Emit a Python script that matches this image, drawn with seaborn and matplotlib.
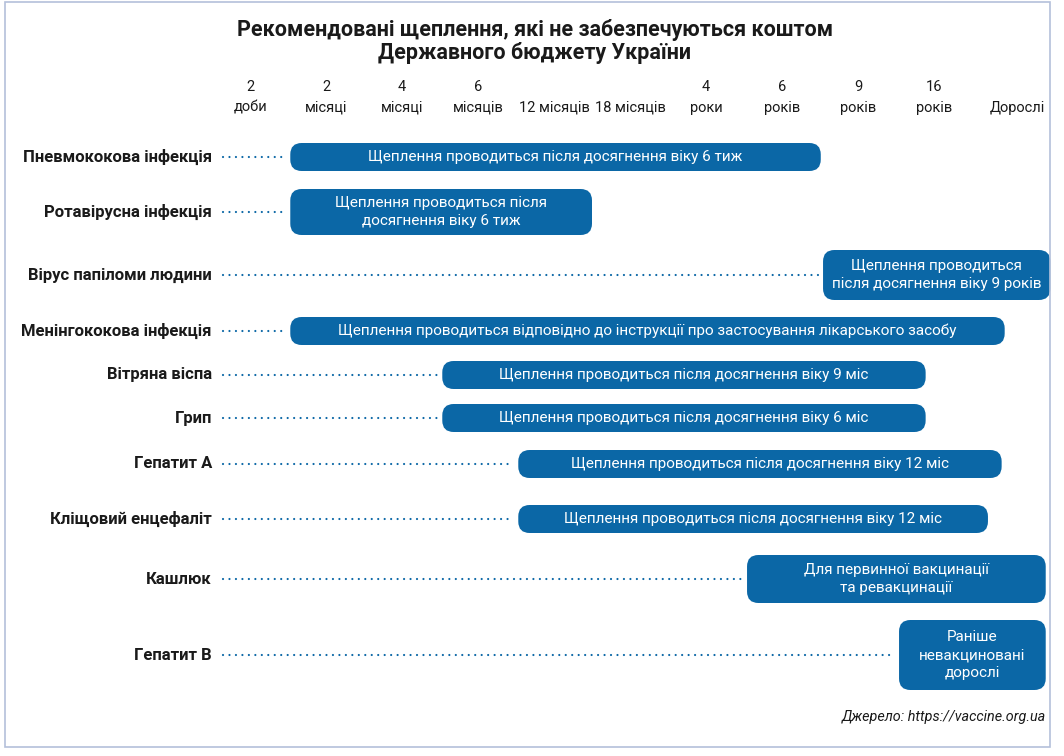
import matplotlib.pyplot as plt
import seaborn as sns
from matplotlib.patches import FancyBboxPatch, Rectangle

# --- 1. Data ---
header_top = ['2', '2', '4', '6', '', '', '4', '6', '9', '16', '']
header_bottom = ['доби', 'місяці', 'місяці', 'місяців', '12 місяців', '18 місяців',
                 'роки', 'років', 'років', 'років', 'Дорослі']
header_pos = [0, 1, 2, 3, 4, 5, 6, 7, 8, 9, 10.1]

diseases = ['Пневмококова інфекція', 'Ротавірусна інфекція', 'Вірус папіломи людини',
            'Менінгококова інфекція', 'Вітряна віспа', 'Грип', 'Гепатит А',
            'Кліщовий енцефаліт', 'Кашлюк', 'Гепатит В']
bar_start = [0.53, 0.53, 7.54, 0.53, 2.53, 2.53, 3.53, 3.53, 6.54, 8.54]
bar_end = [7.51, 4.50, 10.53, 9.93, 8.89, 8.89, 9.89, 9.71, 10.47, 10.47]
bar_text = [
    'Щеплення проводиться після досягнення віку 6 тиж',
    'Щеплення проводиться після\nдосягнення віку 6 тиж',
    'Щеплення проводиться\nпісля досягнення віку 9 років',
    'Щеплення проводиться відповідно до інструкції про застосування лікарського засобу',
    'Щеплення проводиться після досягнення віку 9 міс',
    'Щеплення проводиться після досягнення віку 6 міс',
    'Щеплення проводиться після досягнення віку 12 міс',
    'Щеплення проводиться після досягнення віку 12 міс',
    'Для первинної вакцинації\nта ревакцинації',
    'Раніше\nневакциновані\nдорослі',
]

# --- 2. Layout (pixels, top-down) ---
row_y = [157, 212, 275, 331, 375, 418, 464, 519, 579, 655]
bar_h = [28, 46, 50, 28, 28, 28, 28, 28, 48, 70]

BLUE = '#0b67a6'
PX = 76      # pixels per column
X0 = 250     # pixel of first column

sns.set_theme(style='white')
plt.rcParams['font.family'] = ['Roboto', 'DejaVu Sans']

fig = plt.figure(figsize=(10.64, 7.56), dpi=100)
ax = fig.add_axes([0, 0, 1, 1])
ax.set_xlim(-X0 / PX, (1064 - X0) / PX)
ax.set_ylim(756, 0)
ax.axis('off')

# frame
fig.patches.append(Rectangle((5 / 1064, 9 / 756), 1045 / 1064, 745 / 756,
                             transform=fig.transFigure, fill=False,
                             edgecolor='#b4c0da', linewidth=1.2))

# --- 3. Title ---
tx = (535 - X0) / PX
ax.text(tx, 30, 'Рекомендовані щеплення, які не забезпечуються коштом',
        ha='center', va='center', fontsize=15.5, fontweight='bold', color='#1a1a1a')
ax.text(tx, 53, 'Державного бюджету України',
        ha='center', va='center', fontsize=15.5, fontweight='bold', color='#1a1a1a')

# --- 4. Column headers ---
for x, top, bottom in zip(header_pos, header_top, header_bottom):
    if top:
        ax.text(x, 87, top, ha='center', va='center', fontsize=10.5, color='#1a1a1a')
    ax.text(x, 108, bottom, ha='center', va='center', fontsize=10.5, color='#1a1a1a')

# --- 5. Rows ---
label_x = (212 - X0) / PX
for name, s, e, txt, y, h in zip(diseases, bar_start, bar_end, bar_text, row_y, bar_h):
    ax.text(label_x, y, name, ha='right', va='center', fontsize=12,
            fontweight='bold', color='#1a1a1a')
    ax.plot([label_x + 0.14, s - 0.05], [y, y], color=BLUE, linewidth=1.6,
            linestyle=(0, (0.01, 2.9)), dash_capstyle='round')
    box = FancyBboxPatch((s, y - h / 2), e - s, h,
                         boxstyle='round,pad=0,rounding_size=0.15',
                         mutation_aspect=PX, facecolor=BLUE, edgecolor='none')
    ax.add_patch(box)
    ax.text((s + e) / 2, y, txt, ha='center', va='center', fontsize=11,
            color='white', linespacing=1.35)

# --- 6. Source ---
ax.text((1046 - X0) / PX, 717, 'Джерело: https://vaccine.org.ua', ha='right',
        va='center', fontsize=10.4, style='italic', color='#1a1a1a')

fig.savefig('out.png', dpi=100)
